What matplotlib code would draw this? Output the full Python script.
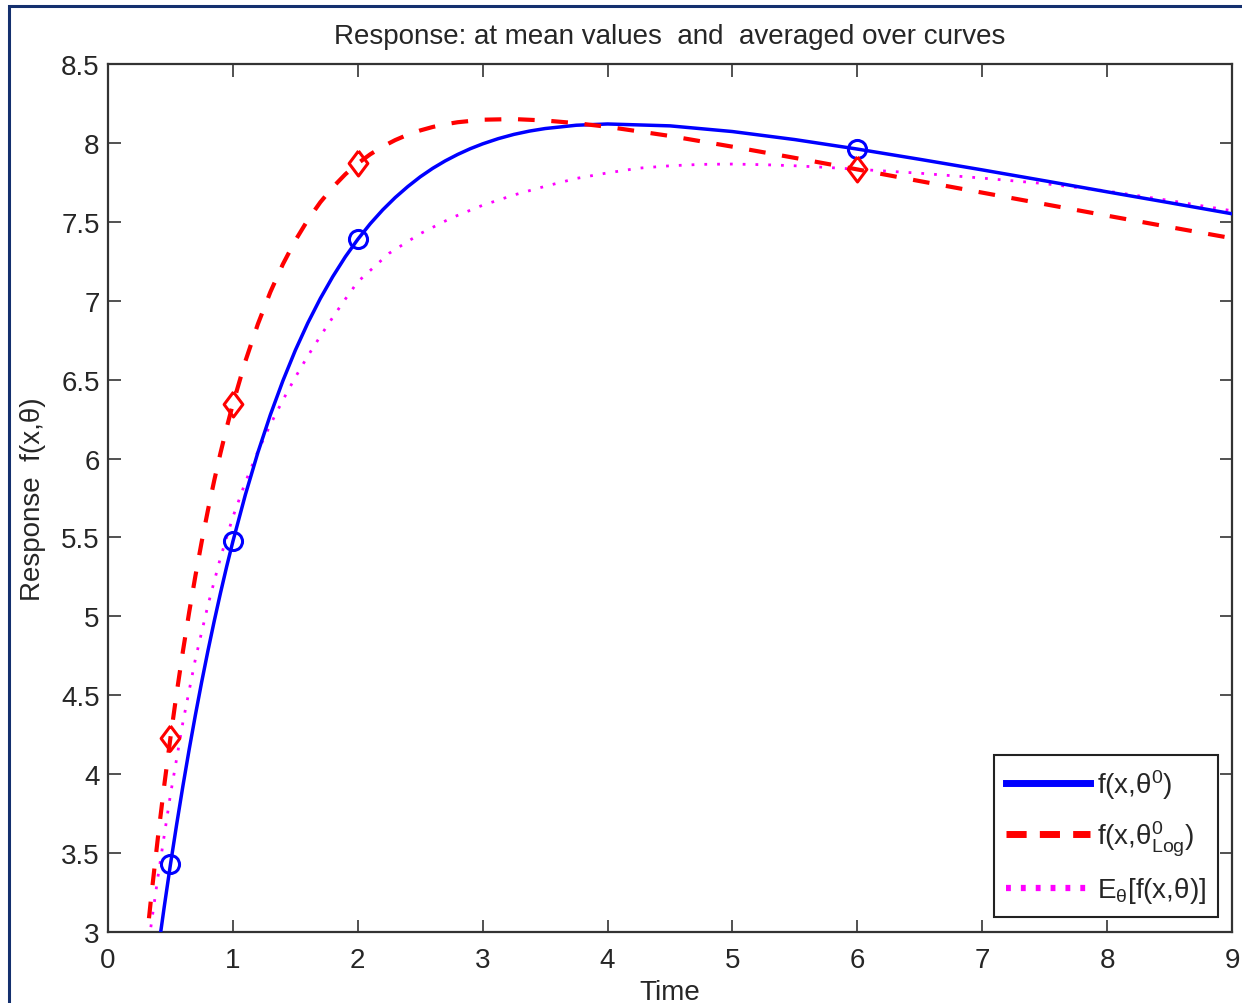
import matplotlib
matplotlib.use('Agg')
import matplotlib.pyplot as plt
from matplotlib.patches import Rectangle

plt.rcParams['font.family'] = ['Liberation Sans', 'DejaVu Sans']
plt.rcParams['mathtext.default'] = 'regular'
plt.rcParams['mathtext.fontset'] = 'custom'
plt.rcParams['mathtext.rm'] = 'Liberation Sans'
plt.rcParams['mathtext.it'] = 'Liberation Sans:italic'
plt.rcParams['lines.scale_dashes'] = False

# ---------------- data ----------------
t_blue = [0.40, 0.45, 0.50, 0.55, 0.60, 0.65, 0.70, 0.75, 0.80, 0.85, 0.90, 0.95, 1.00,
          1.10, 1.20, 1.30, 1.40, 1.50, 1.60, 1.70, 1.80, 1.90, 2.00, 2.10, 2.20, 2.30,
          2.40, 2.50, 2.60, 2.70, 2.80, 2.90, 3.00, 3.125, 3.25, 3.375, 3.50, 3.75, 4.00,
          4.50, 5.00, 5.50, 6.00, 6.50, 7.00, 7.50, 8.00, 8.50, 9.00]
v_blue = [2.875, 3.158, 3.428, 3.683, 3.926, 4.157, 4.376, 4.584, 4.781, 4.968, 5.146, 5.315, 5.475,
          5.771, 6.038, 6.277, 6.492, 6.686, 6.859, 7.014, 7.153, 7.278, 7.389, 7.488, 7.576, 7.654,
          7.723, 7.785, 7.839, 7.886, 7.927, 7.963, 7.994, 8.027, 8.054, 8.075, 8.091, 8.112, 8.120,
          8.108, 8.072, 8.021, 7.961, 7.896, 7.829, 7.760, 7.690, 7.621, 7.551]

t_red = [0.30, 0.35, 0.40, 0.45, 0.50, 0.55, 0.60, 0.65, 0.70, 0.75, 0.80, 0.85, 0.90, 0.95,
         1.00, 1.10, 1.20, 1.30, 1.40, 1.50, 1.60, 1.70, 1.80, 1.90, 2.00, 2.10, 2.20, 2.30,
         2.40, 2.50, 2.60, 2.70, 2.80, 3.00, 3.25, 3.50, 3.75, 4.00, 4.50, 5.00, 5.50, 6.00,
         6.50, 7.00, 7.50, 8.00, 8.50, 9.00]
v_red = [2.877, 3.252, 3.601, 3.927, 4.231, 4.515, 4.780, 5.027, 5.257, 5.472, 5.672, 5.859, 6.033, 6.195,
         6.346, 6.617, 6.852, 7.055, 7.231, 7.382, 7.512, 7.624, 7.719, 7.801, 7.870, 7.928, 7.977, 8.018,
         8.052, 8.079, 8.101, 8.118, 8.131, 8.147, 8.151, 8.142, 8.125, 8.102, 8.044, 7.976, 7.905, 7.832,
         7.758, 7.685, 7.612, 7.539, 7.467, 7.396]

t_mag = [0.30, 0.40, 0.50, 0.60, 0.70, 0.80, 0.90, 1.00, 1.10, 1.20, 1.30, 1.40, 1.50, 1.60,
         1.70, 1.80, 1.90, 2.00, 2.25, 2.50, 2.75, 3.00, 3.25, 3.50, 3.75, 4.00, 4.25, 4.50,
         4.75, 5.00, 5.25, 5.50, 5.75, 6.00, 6.50, 7.00, 7.50, 8.00, 8.50, 9.00]
v_mag = [2.79, 3.35, 3.87, 4.33, 4.73, 5.07, 5.37, 5.63, 5.85, 6.045, 6.215, 6.37, 6.515, 6.65,
         6.775, 6.895, 7.01, 7.12, 7.30, 7.425, 7.525, 7.605, 7.67, 7.725, 7.775, 7.81, 7.84, 7.855,
         7.864, 7.866, 7.862, 7.855, 7.845, 7.833, 7.808, 7.777, 7.742, 7.695, 7.635, 7.57]

t_marks = [0.5, 1, 2, 6]
blue_marks = [3.428, 5.475, 7.389, 7.961]
red_marks = [4.231, 6.346, 7.870, 7.832]

x_ticks = [0, 1, 2, 3, 4, 5, 6, 7, 8, 9]
y_ticks = [3, 3.5, 4, 4.5, 5, 5.5, 6, 6.5, 7, 7.5, 8, 8.5]
y_ticklabels = ['3', '3.5', '4', '4.5', '5', '5.5', '6', '6.5', '7', '7.5', '8', '8.5']

labels = [r'f(x,θ$^{0}$)', r'f(x,θ$^{0}_{Log}$)', r'E$_{θ}$[f(x,θ)]']
title = 'Response: at mean values  and  averaged over curves'
xlabel = 'Time'
ylabel = 'Response  f(x,θ)'

# ---------------- figure ----------------
W, H = 1242, 1004
fig = plt.figure(figsize=(W / 100, H / 100), dpi=100)
fig.patch.set_facecolor('white')
ax = fig.add_axes([108 / W, (H - 933) / H, (1232 - 108) / W, (933 - 65) / H])

FS = 20
TXT = '#262626'

l1, = ax.plot(t_blue, v_blue, color='#0000ff', lw=2.5, label=labels[0], zorder=3)
l2, = ax.plot(t_red, v_red, color='#ff0000', lw=3.0, label=labels[1], zorder=3)
l2.set_dashes((12, 12))
l3, = ax.plot(t_mag, v_mag, color='#ff00ff', lw=2.0, label=labels[2], zorder=2)
l3.set_dashes((2, 7.2))

diamond = [(0, 1), (0.75, 0), (0, -1), (-0.75, 0), (0, 1)]
ax.plot(t_marks, blue_marks, linestyle='none', marker='o', ms=13, mfc='none',
        mec='#0000ff', mew=2.2, zorder=4)
ax.plot(t_marks, red_marks, linestyle='none', marker=diamond, ms=18, mfc='none',
        mec='#ff0000', mew=2.2, zorder=4)

ax.set_xlim(0, 9)
ax.set_ylim(3, 8.5)
ax.set_xticks(x_ticks)
ax.set_yticks(y_ticks)
ax.set_yticklabels(y_ticklabels)
ax.tick_params(direction='in', length=9, width=1.2, top=True, right=True,
               labelsize=FS, colors='#333333', labelcolor=TXT)
ax.tick_params(axis='x', pad=11)
ax.tick_params(axis='y', pad=6)
for s in ax.spines.values():
    s.set_linewidth(1.6)
    s.set_color('#333333')

ax.set_title(title, fontsize=FS, color=TXT, pad=15)
ax.set_xlabel(xlabel, fontsize=FS, color=TXT, labelpad=4)
ax.set_ylabel(ylabel, fontsize=FS, color=TXT, labelpad=11)

leg = ax.legend(handles=[l1, l2, l3], loc='lower right',
                bbox_to_anchor=((1218 - 108) / 1124, (933 - 918) / 868),
                fontsize=FS, frameon=True, fancybox=False, framealpha=1,
                edgecolor='#222222', borderaxespad=0, handlelength=3.05,
                handletextpad=0.25, labelspacing=0.64, borderpad=0.42)
leg.get_frame().set_linewidth(1.5)
for t in leg.get_texts():
    t.set_color(TXT)
hl = leg.get_lines()
hl[0].set_linewidth(5)
hl[1].set_linewidth(5)
hl[1].set_dashes((14.5, 9.5))
hl[2].set_linewidth(4.5)
hl[2].set_dashes((3.5, 7.2))

# figure border (navy frame, cut at right/bottom)
fig.add_artist(Rectangle((9 / W, -0.05), 1.2, 1.05 - 7 / H, transform=fig.transFigure,
                         fill=False, edgecolor='#14306e', lw=2.2))

fig.savefig('out.png', dpi=100)
